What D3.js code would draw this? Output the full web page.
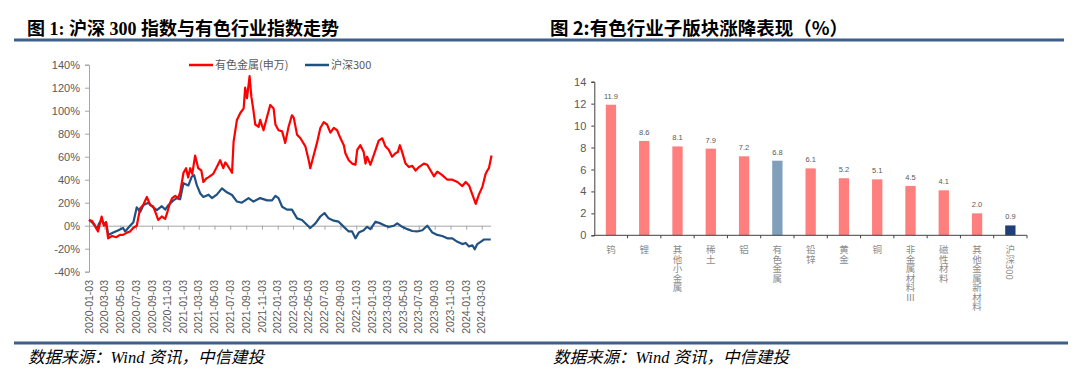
<!DOCTYPE html>
<html>
<head>
<meta charset="utf-8">
<script src="https://cdn.jsdelivr.net/npm/d3@7"></script>
<style>
  body { margin: 0; background: #fff; }
  svg { display: block; }
</style>
</head>
<body>
<div id="chart"></div>
<script>
// 有色金属(申万) cumulative return, %
const nonferrous = [
  ['2020-01-03', 5], ['2020-01-15', 4], ['2020-01-26', 0], ['2020-02-07', -5], ['2020-02-21', 8],
  ['2020-03-01', 0], ['2020-03-09', 3], ['2020-03-17', -11], ['2020-04-01', -9], ['2020-04-17', -10],
  ['2020-05-02', -8], ['2020-05-14', -8], ['2020-05-29', -6], ['2020-06-10', -5], ['2020-06-22', -2],
  ['2020-07-06', 0], ['2020-07-19', 15], ['2020-07-31', 18], ['2020-08-14', 25], ['2020-08-27', 18],
  ['2020-09-07', 17], ['2020-09-19', 10], ['2020-09-27', 5], ['2020-10-11', 8], ['2020-10-24', 6],
  ['2020-10-30', 10], ['2020-11-12', 20], ['2020-11-20', 24], ['2020-12-02', 26], ['2020-12-13', 24],
  ['2020-12-21', 29], ['2021-01-03', 46], ['2021-01-13', 50], ['2021-01-21', 42], ['2021-01-29', 50],
  ['2021-02-06', 45], ['2021-02-17', 61], ['2021-03-01', 50], ['2021-03-13', 48], ['2021-03-21', 38],
  ['2021-04-01', 41], ['2021-04-09', 42], ['2021-04-28', 45], ['2021-05-12', 51], ['2021-05-25', 57],
  ['2021-06-06', 50], ['2021-06-14', 55], ['2021-06-21', 53], ['2021-07-10', 46], ['2021-07-16', 73],
  ['2021-07-29', 92], ['2021-08-11', 98], ['2021-08-24', 102], ['2021-08-30', 120], ['2021-09-06', 111],
  ['2021-09-16', 130], ['2021-09-23', 112], ['2021-10-01', 100], ['2021-10-08', 88], ['2021-10-21', 86],
  ['2021-10-27', 92], ['2021-11-09', 83], ['2021-11-23', 95], ['2021-12-05', 105], ['2021-12-18', 102],
  ['2021-12-25', 88], ['2022-01-06', 83], ['2022-01-20', 82], ['2022-02-01', 72], ['2022-02-14', 86],
  ['2022-02-27', 96], ['2022-03-06', 94], ['2022-03-19', 79], ['2022-04-01', 76], ['2022-04-20', 69],
  ['2022-05-03', 57], ['2022-05-09', 50], ['2022-05-22', 61], ['2022-06-04', 72], ['2022-06-17', 85],
  ['2022-06-30', 90], ['2022-07-13', 88], ['2022-07-26', 81], ['2022-08-08', 85], ['2022-08-21', 83],
  ['2022-09-03', 76], ['2022-09-16', 70], ['2022-09-22', 63], ['2022-10-05', 57], ['2022-10-18', 54],
  ['2022-10-31', 53], ['2022-11-07', 66], ['2022-11-19', 70], ['2022-12-02', 64], ['2022-12-09', 54],
  ['2022-12-15', 60], ['2022-12-28', 53], ['2023-01-17', 66], ['2023-01-29', 74], ['2023-02-12', 76],
  ['2023-02-24', 69], ['2023-03-09', 66], ['2023-03-22', 60], ['2023-04-04', 63], ['2023-04-13', 64],
  ['2023-04-21', 70], ['2023-04-30', 64], ['2023-05-13', 54], ['2023-05-26', 51], ['2023-06-08', 52],
  ['2023-06-21', 48], ['2023-07-04', 51], ['2023-07-23', 54], ['2023-08-05', 53], ['2023-08-18', 48],
  ['2023-08-31', 43], ['2023-09-13', 47], ['2023-10-02', 44], ['2023-10-22', 40], ['2023-11-10', 40],
  ['2023-11-30', 38], ['2023-12-19', 34.5], ['2024-01-01', 38], ['2024-01-14', 35], ['2024-01-23', 29.5],
  ['2024-02-09', 19], ['2024-02-21', 27], ['2024-03-06', 34], ['2024-03-18', 45], ['2024-03-25', 48],
  ['2024-03-31', 50], ['2024-04-10', 61]
];

// 沪深300 cumulative return, %
const hs300 = [
  ['2020-01-03', 5], ['2020-01-15', 3], ['2020-01-26', 0], ['2020-02-03', -3], ['2020-02-11', 2],
  ['2020-02-21', 5], ['2020-03-01', 1], ['2020-03-09', 3], ['2020-03-18', -8], ['2020-04-06', -6],
  ['2020-04-26', -4], ['2020-05-14', -2], ['2020-05-22', -5], ['2020-06-10', 0], ['2020-06-23', 3],
  ['2020-07-06', 16], ['2020-07-19', 12], ['2020-08-01', 18], ['2020-08-20', 20], ['2020-09-02', 17],
  ['2020-09-22', 13.6], ['2020-10-11', 17], ['2020-10-24', 14], ['2020-11-06', 18], ['2020-11-25', 22],
  ['2020-12-08', 24], ['2020-12-21', 23], ['2021-01-03', 37], ['2021-01-22', 35], ['2021-02-04', 42.6],
  ['2021-02-13', 44], ['2021-02-24', 35], ['2021-03-09', 28], ['2021-03-21', 25], ['2021-04-10', 27],
  ['2021-04-23', 24], ['2021-05-12', 27], ['2021-06-01', 32.5], ['2021-06-20', 29], ['2021-07-10', 26.7],
  ['2021-07-29', 21], ['2021-08-17', 20], ['2021-09-12', 24], ['2021-10-01', 21], ['2021-10-27', 24],
  ['2021-11-23', 22], ['2021-12-12', 22], ['2021-12-25', 26], ['2022-01-06', 24], ['2022-01-20', 16.5],
  ['2022-02-08', 14], ['2022-02-27', 14], ['2022-03-19', 6.4], ['2022-04-07', 5], ['2022-04-27', 0.6],
  ['2022-05-09', -2], ['2022-05-29', 2], ['2022-06-17', 8], ['2022-07-03', 11], ['2022-07-19', 6.4],
  ['2022-08-08', 4.4], ['2022-08-27', 3.5], ['2022-09-16', -1], ['2022-10-05', -5], ['2022-10-18', -5],
  ['2022-10-31', -11], ['2022-11-13', -6], ['2022-12-02', -4], ['2022-12-15', -1], ['2022-12-28', -3],
  ['2023-01-17', 3.5], ['2023-02-05', 2], ['2023-02-24', 0], ['2023-03-09', -1], ['2023-03-29', 0],
  ['2023-04-11', 2], ['2023-04-30', -1], ['2023-05-20', -3], ['2023-06-08', -4.6], ['2023-06-27', -5],
  ['2023-07-17', -4], ['2023-08-05', 0], ['2023-08-25', -6], ['2023-09-13', -8], ['2023-10-02', -9],
  ['2023-10-22', -11], ['2023-11-10', -11], ['2023-11-30', -14], ['2023-12-19', -16], ['2024-01-01', -15],
  ['2024-01-14', -18], ['2024-01-27', -17], ['2024-02-05', -20.5], ['2024-02-15', -16], ['2024-02-28', -14],
  ['2024-03-12', -12], ['2024-04-07', -12]
];

const dateTicks = [
  '2020-01-03', '2020-03-03', '2020-05-03', '2020-07-03', '2020-09-03', '2020-11-03',
  '2021-01-03', '2021-03-03', '2021-05-03', '2021-07-03', '2021-09-03', '2021-11-03',
  '2022-01-03', '2022-03-03', '2022-05-03', '2022-07-03', '2022-09-03', '2022-11-03',
  '2023-01-03', '2023-03-03', '2023-05-03', '2023-07-03', '2023-09-03', '2023-11-03',
  '2024-01-03', '2024-03-03'
];
const pctTicks = [-40, -20, 0, 20, 40, 60, 80, 100, 120, 140];

// 子版块涨跌幅, %
const sectors = ['钨', '锂', '其他小金属', '稀土', '铝', '有色金属', '铅锌', '黄金', '铜', '非金属材料Ⅲ', '磁性材料', '其他金属新材料', '沪深300'];
const sectorReturns = [11.9, 8.6, 8.1, 7.9, 7.2, 6.8, 6.1, 5.2, 5.1, 4.5, 4.1, 2.0, 0.9];
const barTicks = [0, 2, 4, 6, 8, 10, 12, 14];

const W = 1080, H = 376;
const parse = d3.timeParse('%Y-%m-%d');
const sans = '"Liberation Sans", Arial, "Noto Sans CJK SC", sans-serif';
const cjk = '"Noto Sans CJK SC", sans-serif';

const svg = d3.select('#chart').append('svg')
  .attr('width', W)
  .attr('height', H);

// ---------- headers & footers ----------
svg.append('text')
  .attr('x', 27).attr('y', 35)
  .attr('font-family', '"Liberation Serif", "Noto Sans CJK SC", serif')
  .attr('font-weight', 'bold')
  .attr('font-size', 18)
  .attr('fill', '#000')
  .text('图 1: 沪深 300 指数与有色行业指数走势');

svg.append('text')
  .attr('x', 550).attr('y', 35)
  .attr('font-family', cjk)
  .attr('font-weight', 'bold')
  .attr('font-size', 18.5)
  .attr('fill', '#000')
  .text('图 2:有色行业子版块涨降表现（%）');

svg.append('line')
  .attr('x1', 14).attr('x2', 1064).attr('y1', 40).attr('y2', 40)
  .attr('stroke', '#3c5f8c').attr('stroke-width', 3);

svg.append('line')
  .attr('x1', 14).attr('x2', 1068).attr('y1', 343).attr('y2', 343)
  .attr('stroke', '#3c5f8c').attr('stroke-width', 3);

[28, 553].forEach(x => {
  svg.append('text')
    .attr('x', x).attr('y', 363)
    .attr('font-family', '"Liberation Serif", "Noto Sans CJK SC", serif')
    .attr('font-style', 'italic')
    .attr('font-size', 16.5)
    .attr('fill', '#000')
    .text('数据来源：Wind 资讯，中信建投');
});

// ---------- left: line chart ----------
const xL = d3.scaleTime()
  .domain([parse('2020-01-03'), parse('2024-03-03')])
  .range([89, 481.7]);

const yL = d3.scaleLinear()
  .domain([-40, 140])
  .range([271.7, 64.7]);

const left = svg.append('g');

const yAxisL = left.append('g')
  .attr('transform', 'translate(89,0)')
  .call(d3.axisLeft(yL).tickValues(pctTicks).tickSize(4).tickPadding(5).tickFormat(d => d + '%'));
yAxisL.select('.domain').attr('stroke', '#a6a6a6');
yAxisL.selectAll('.tick line').attr('stroke', '#a6a6a6');
yAxisL.selectAll('.tick text')
  .attr('font-family', sans).attr('font-size', 11).attr('fill', '#595959');

const xAxisL = left.append('g')
  .attr('transform', 'translate(0,' + yL(0) + ')')
  .call(d3.axisBottom(xL).tickValues(dateTicks.map(parse)).tickSize(4).tickSizeOuter(0).tickFormat(''));
xAxisL.select('.domain').attr('stroke', '#a6a6a6').attr('d', 'M89,0.5H491');
xAxisL.selectAll('.tick line').attr('stroke', '#a6a6a6');

left.append('g').selectAll('text')
  .data(dateTicks)
  .enter().append('text')
  .attr('transform', d => 'translate(' + xL(parse(d)) + ',280) rotate(-90)')
  .attr('dy', '0.35em')
  .attr('text-anchor', 'end')
  .attr('font-family', sans)
  .attr('font-size', 10.5)
  .attr('fill', '#595959')
  .text(d => d);

const line = d3.line()
  .x(d => xL(parse(d[0])))
  .y(d => yL(d[1]));

left.append('path')
  .datum(hs300)
  .attr('d', line)
  .attr('fill', 'none')
  .attr('stroke', '#1f5183')
  .attr('stroke-width', 2.2)
  .attr('stroke-linejoin', 'round');

left.append('path')
  .datum(nonferrous)
  .attr('d', line)
  .attr('fill', 'none')
  .attr('stroke', '#ff0000')
  .attr('stroke-width', 2.2)
  .attr('stroke-linejoin', 'round');

// legend
const legend = [
  { name: '有色金属(申万)', color: '#ff0000', x: 189 },
  { name: '沪深300', color: '#1f5183', x: 305 }
];
legend.forEach(l => {
  left.append('line')
    .attr('x1', l.x).attr('x2', l.x + 24).attr('y1', 65).attr('y2', 65)
    .attr('stroke', l.color).attr('stroke-width', 2.5);
  left.append('text')
    .attr('x', l.x + 26).attr('y', 65).attr('dy', '0.35em')
    .attr('font-family', cjk).attr('font-size', 11).attr('fill', '#595959')
    .text(l.name);
});

// ---------- right: bar chart ----------
const xR = d3.scaleBand()
  .domain(sectors)
  .range([594.3, 1027])
  .paddingInner(0.69)
  .paddingOuter(0.345);

const yR = d3.scaleLinear()
  .domain([0, 14])
  .range([235.3, 81.7]);

const right = svg.append('g');

const yAxisR = right.append('g')
  .attr('transform', 'translate(594.3,0)')
  .call(d3.axisLeft(yR).tickValues(barTicks).tickSize(3).tickPadding(5));
yAxisR.select('.domain').attr('stroke', '#404040');
yAxisR.selectAll('.tick line').attr('stroke', '#404040');
yAxisR.selectAll('.tick text')
  .attr('font-family', sans).attr('font-size', 11).attr('fill', '#595959');

right.append('g')
  .selectAll('rect')
  .data(sectors)
  .enter().append('rect')
  .attr('x', d => xR(d))
  .attr('y', (d, i) => yR(sectorReturns[i]))
  .attr('width', xR.bandwidth())
  .attr('height', (d, i) => yR(0) - yR(sectorReturns[i]))
  .attr('fill', d => d === '有色金属' ? '#7f9fbb' : d === '沪深300' ? '#1f3f78' : '#ff7f7f');

right.append('g')
  .selectAll('text')
  .data(sectors)
  .enter().append('text')
  .attr('x', d => xR(d) + xR.bandwidth() / 2)
  .attr('y', (d, i) => yR(sectorReturns[i]) - 6)
  .attr('text-anchor', 'middle')
  .attr('font-family', sans)
  .attr('font-size', 7.5)
  .attr('fill', '#595959')
  .text((d, i) => sectorReturns[i].toFixed(1));

// x axis with ticks between categories
const step = xR.step();
const xAxisR = right.append('g');
xAxisR.append('line')
  .attr('x1', 594.3).attr('x2', 1027).attr('y1', yR(0)).attr('y2', yR(0))
  .attr('stroke', '#404040').attr('stroke-width', 1);
xAxisR.selectAll('.tk')
  .data(sectors)
  .enter().append('line')
  .attr('x1', d => xR(d) + xR.bandwidth() / 2 + step / 2)
  .attr('x2', d => xR(d) + xR.bandwidth() / 2 + step / 2)
  .attr('y1', yR(0)).attr('y2', yR(0) + 3)
  .attr('stroke', '#404040');

right.append('g')
  .selectAll('text')
  .data(sectors)
  .enter().append('text')
  .attr('x', d => xR(d) + xR.bandwidth() / 2)
  .attr('y', 245)
  .style('writing-mode', 'vertical-rl')
  .attr('font-family', cjk)
  .attr('font-size', 9.5)
  .attr('fill', '#8c8c8c')
  .text(d => d);
</script>
</body>
</html>
